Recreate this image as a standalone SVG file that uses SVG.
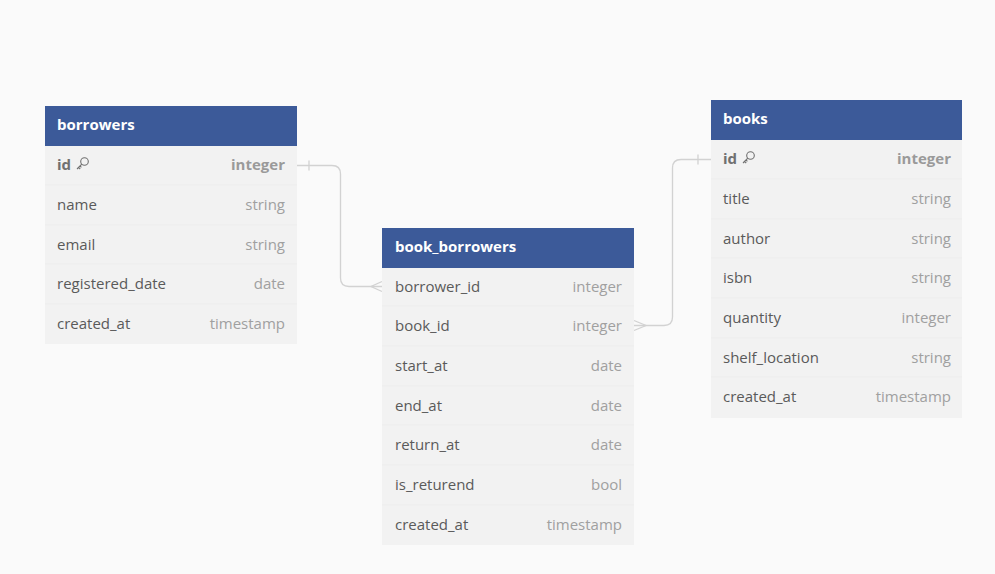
<svg xmlns="http://www.w3.org/2000/svg" width="995" height="574" viewBox="0 0 995 574">
<style>
.hdr{fill:#3c5a99}
.body{fill:#f2f2f2}
.sep{stroke:#ededed;stroke-width:1}
.title{font-family:"Open Sans","Noto Sans",sans-serif;font-size:15px;font-weight:700;fill:#ffffff}
.name{font-family:"Open Sans","Noto Sans",sans-serif;font-size:15px;fill:#5a5a5a}
.type{font-family:"Open Sans","Noto Sans",sans-serif;font-size:15px;fill:#a0a0a0;text-anchor:end}
.pk{font-weight:700;fill:#707070}
.pkt{font-weight:700;fill:#9a9a9a}
.conn{fill:none;stroke:#d2d2d2;stroke-width:1.3}
.key{fill:none;stroke:#707070;stroke-width:1.1}
</style>
<rect width="995" height="574" fill="#fafafa"/>
<g id="connectors">
  <path class="conn" d="M297 165.5 H332 Q340.5 165.5 340.5 174 V278 Q340.5 286.5 349 286.5 H382"/>
  <path class="conn" d="M309 160.5 V170.5"/>
  <path class="conn" d="M382 281.5 L371 286.5 L382 291.5"/>
  <path class="conn" d="M634 325.5 H664 Q672.5 325.5 672.5 317 V168 Q672.5 159.5 681 159.5 H711"/>
  <path class="conn" d="M698 154.5 V164.5"/>
  <path class="conn" d="M634 320.5 L646 325.5 L634 330.5"/>
</g>
<g id="borrowers">
  <rect class="body" x="45" y="106" width="252" height="238"/>
  <rect class="hdr" x="45" y="106" width="252" height="40"/>
  <text class="title" x="57" y="130">borrowers</text>
  <line class="sep" x1="45" y1="185" x2="297" y2="185"/>
  <line class="sep" x1="45" y1="225" x2="297" y2="225"/>
  <line class="sep" x1="45" y1="264" x2="297" y2="264"/>
  <line class="sep" x1="45" y1="304" x2="297" y2="304"/>
  <text class="name pk" x="57" y="170">id</text>
  <g class="key" transform="translate(76,157)"><circle cx="8.5" cy="4.5" r="3.8"/><path d="M5.8 7.2 L1 12 M2.6 10.4 L4.2 12 M4 9 L5.4 10.4"/></g>
  <text class="type pkt" x="285" y="170">integer</text>
  <text class="name" x="57" y="210">name</text><text class="type" x="285" y="210">string</text>
  <text class="name" x="57" y="250">email</text><text class="type" x="285" y="250">string</text>
  <text class="name" x="57" y="289">registered_date</text><text class="type" x="285" y="289">date</text>
  <text class="name" x="57" y="329">created_at</text><text class="type" x="285" y="329">timestamp</text>
</g>
<g id="book_borrowers">
  <rect class="body" x="382" y="228" width="252" height="317"/>
  <rect class="hdr" x="382" y="228" width="252" height="40"/>
  <text class="title" x="395" y="252">book_borrowers</text>
  <line class="sep" x1="382" y1="306" x2="634" y2="306"/>
  <line class="sep" x1="382" y1="346" x2="634" y2="346"/>
  <line class="sep" x1="382" y1="386" x2="634" y2="386"/>
  <line class="sep" x1="382" y1="425" x2="634" y2="425"/>
  <line class="sep" x1="382" y1="465" x2="634" y2="465"/>
  <line class="sep" x1="382" y1="505" x2="634" y2="505"/>
  <text class="name" x="395" y="292">borrower_id</text><text class="type" x="622" y="292">integer</text>
  <text class="name" x="395" y="331">book_id</text><text class="type" x="622" y="331">integer</text>
  <text class="name" x="395" y="371">start_at</text><text class="type" x="622" y="371">date</text>
  <text class="name" x="395" y="411">end_at</text><text class="type" x="622" y="411">date</text>
  <text class="name" x="395" y="450">return_at</text><text class="type" x="622" y="450">date</text>
  <text class="name" x="395" y="490">is_returend</text><text class="type" x="622" y="490">bool</text>
  <text class="name" x="395" y="530">created_at</text><text class="type" x="622" y="530">timestamp</text>
</g>
<g id="books">
  <rect class="body" x="711" y="100" width="251" height="318"/>
  <rect class="hdr" x="711" y="100" width="251" height="40"/>
  <text class="title" x="723" y="124">books</text>
  <line class="sep" x1="711" y1="179" x2="962" y2="179"/>
  <line class="sep" x1="711" y1="219" x2="962" y2="219"/>
  <line class="sep" x1="711" y1="258" x2="962" y2="258"/>
  <line class="sep" x1="711" y1="298" x2="962" y2="298"/>
  <line class="sep" x1="711" y1="338" x2="962" y2="338"/>
  <line class="sep" x1="711" y1="377" x2="962" y2="377"/>
  <text class="name pk" x="723" y="164">id</text>
  <g class="key" transform="translate(742,151)"><circle cx="8.5" cy="4.5" r="3.8"/><path d="M5.8 7.2 L1 12 M2.6 10.4 L4.2 12 M4 9 L5.4 10.4"/></g>
  <text class="type pkt" x="951" y="164">integer</text>
  <text class="name" x="723" y="204">title</text><text class="type" x="951" y="204">string</text>
  <text class="name" x="723" y="244">author</text><text class="type" x="951" y="244">string</text>
  <text class="name" x="723" y="283">isbn</text><text class="type" x="951" y="283">string</text>
  <text class="name" x="723" y="323">quantity</text><text class="type" x="951" y="323">integer</text>
  <text class="name" x="723" y="363">shelf_location</text><text class="type" x="951" y="363">string</text>
  <text class="name" x="723" y="402">created_at</text><text class="type" x="951" y="402">timestamp</text>
</g>
</svg>
